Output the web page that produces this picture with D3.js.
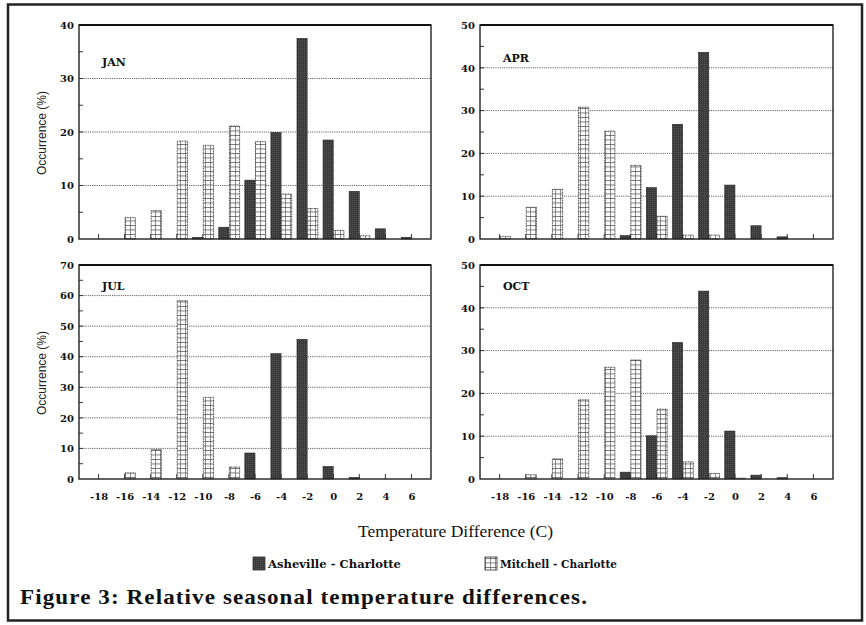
<!DOCTYPE html>
<html><head><meta charset="utf-8">
<script src="https://cdn.jsdelivr.net/npm/d3@7"></script>
<style>body{margin:0;background:#fff}svg{display:block}</style>
</head><body>
<svg id="c" width="866" height="625"></svg>
<script>
const categories = [-18,-16,-14,-12,-10,-8,-6,-4,-2,0,2,4,6];
const months = ["JAN","APR","JUL","OCT"];
const yMax = [40,50,70,50];
const ashevilleJAN = [0,0,0,0,0.3,2.2,11.0,19.9,37.5,18.5,8.9,1.9,0.3];
const mitchellJAN  = [0,4.0,5.3,18.3,17.5,21.1,18.2,8.4,5.7,1.6,0.6,0,0];
const ashevilleAPR = [0,0,0,0,0,0.8,12.0,26.8,43.6,12.6,3.1,0.5,0];
const mitchellAPR  = [0.6,7.4,11.6,30.8,25.2,17.2,5.3,0.9,0.9,0,0,0,0];
const ashevilleJUL = [0,0,0,0,0,0,8.5,41.0,45.7,4.1,0.5,0,0];
const mitchellJUL  = [0,2.0,9.6,58.3,26.7,3.9,0,0,0,0,0,0,0];
const ashevilleOCT = [0,0,0,0,0,1.6,10.1,31.9,43.9,11.2,0.9,0.3,0];
const mitchellOCT  = [0,1.0,4.7,18.5,26.1,27.8,16.3,4.0,1.3,0.2,0,0,0];
const seriesNames = ["Asheville - Charlotte","Mitchell - Charlotte"];
const xTitle = "Temperature Difference (C)";
const yTitle = "Occurrence (%)";
const caption = "Figure 3: Relative seasonal temperature differences.";

const asheville = [ashevilleJAN, ashevilleAPR, ashevilleJUL, ashevilleOCT];
const mitchell = [mitchellJAN, mitchellAPR, mitchellJUL, mitchellOCT];

const svg = d3.select("#c");
const defs = svg.append("defs");
const pat = defs.append("pattern").attr("id","grid").attr("patternUnits","userSpaceOnUse")
  .attr("width",5).attr("height",4.5);
pat.append("rect").attr("width",5).attr("height",4.5).attr("fill","#fafafa");
pat.append("path").attr("d","M0,0H5M0,0V4.5").attr("stroke","#4a4a4a").attr("stroke-width",1.2);
const pat2 = defs.append("pattern").attr("id","dark").attr("patternUnits","userSpaceOnUse")
  .attr("width",2).attr("height",2);
pat2.append("rect").attr("width",2).attr("height",2).attr("fill","#3a3a3a");
pat2.append("rect").attr("width",1).attr("height",1).attr("fill","#555");

// outer frame
svg.append("rect").attr("x",8).attr("y",4.5).attr("width",854).attr("height",616)
  .attr("fill","none").attr("stroke","#222").attr("stroke-width",2.5);

const panels = [
  {x0:79, x1:431, y0:25, y1:239},
  {x0:480, x1:833, y0:25, y1:239},
  {x0:79, x1:431, y0:265, y1:479},
  {x0:480, x1:833, y0:265, y1:479}
];

panels.forEach((p,i)=>{
  const g = svg.append("g");
  const x = d3.scaleLinear().domain([-19.5,7.5]).range([p.x0,p.x1]);
  const y = d3.scaleLinear().domain([0,yMax[i]]).range([p.y1,p.y0]);
  const bw = (x(2)-x(0))*0.39;
  const majors = d3.range(10, yMax[i], 10);
  g.selectAll(".gl").data(majors).enter().append("line")
    .attr("x1",p.x0).attr("x2",p.x1).attr("y1",d=>y(d)).attr("y2",d=>y(d))
    .attr("stroke","#555").attr("stroke-width",0.9).attr("stroke-dasharray","1.2,1");
  const ya = d3.axisLeft(y).tickValues(d3.range(0,yMax[i]+1,10)).tickSize(0).tickPadding(5);
  const yg = g.append("g").attr("transform",`translate(${p.x0},0)`).call(ya);
  yg.select(".domain").remove();
  yg.selectAll("text").attr("font-family","DejaVu Serif").attr("font-weight","bold")
    .attr("font-size",10).attr("fill","#111");
  g.selectAll(".ym").data(d3.range(5,yMax[i],5)).enter().append("line")
    .attr("x1",p.x0).attr("x2",p.x0+4).attr("y1",d=>y(d)).attr("y2",d=>y(d))
    .attr("stroke","#333").attr("stroke-width",1);
  g.selectAll(".xm").data(categories).enter().append("line")
    .attr("x1",d=>x(d)).attr("x2",d=>x(d)).attr("y1",p.y1).attr("y2",p.y1-5)
    .attr("stroke","#333").attr("stroke-width",1);
  g.selectAll(".ba").data(categories.map((c,k)=>({c,v:asheville[i][k]})).filter(d=>d.v>0))
    .enter().append("rect")
    .attr("x",d=>x(d.c)-bw).attr("width",bw)
    .attr("y",d=>y(d.v)).attr("height",d=>p.y1-y(d.v))
    .attr("fill","url(#dark)").attr("stroke","#222").attr("stroke-width",0.6);
  g.selectAll(".bm").data(categories.map((c,k)=>({c,v:mitchell[i][k]})).filter(d=>d.v>0))
    .enter().append("rect")
    .attr("x",d=>x(d.c)+0.5).attr("width",bw)
    .attr("y",d=>y(d.v)).attr("height",d=>p.y1-y(d.v))
    .attr("fill","url(#grid)").attr("stroke","#333").attr("stroke-width",0.9)
    .attr("stroke-dasharray","1,0.6");
  g.append("rect").attr("x",p.x0).attr("y",p.y0).attr("width",p.x1-p.x0).attr("height",p.y1-p.y0)
    .attr("fill","none").attr("stroke","#222").attr("stroke-width",1.4);
  g.append("line").attr("x1",p.x0).attr("x2",p.x1).attr("y1",p.y0).attr("y2",p.y0)
    .attr("stroke","#111").attr("stroke-width",2);
  g.append("text").attr("x",p.x0+23).attr("y", i<2 ? (i===0?66:62) : 290)
    .attr("font-family","DejaVu Serif").attr("font-weight","bold").attr("font-size",11)
    .attr("fill","#111").text(months[i]);
  if (i>=2) {
    const xa = d3.axisBottom(x).tickValues(categories).tickSize(0).tickPadding(14)
      .tickFormat(d=>d<0?"-"+Math.abs(d):String(d));
    const xg = g.append("g").attr("transform",`translate(0,${p.y1})`).call(xa);
    xg.select(".domain").remove();
    xg.selectAll("text").attr("font-family","DejaVu Serif").attr("font-weight","bold")
      .attr("font-size",10).attr("fill","#111");
  }
  if (i===0 || i===2) {
    g.append("text").attr("transform",`translate(46,${(p.y0+p.y1)/2+1}) rotate(-90)`)
      .attr("text-anchor","middle").attr("font-family","Liberation Sans").attr("font-size",12)
      .attr("fill","#222").text(yTitle);
  }
});

svg.append("text").attr("x",358).attr("y",537).attr("textLength",195).attr("lengthAdjust","spacingAndGlyphs")
  .attr("font-family","Liberation Serif").attr("font-size",17).attr("fill","#111").text(xTitle);

const leg = [{x:253, fill:"url(#dark)"},{x:485, fill:"url(#grid)"}];
leg.forEach((l,k)=>{
  svg.append("rect").attr("x",l.x).attr("y",557).attr("width",12).attr("height",13)
    .attr("fill",l.fill).attr("stroke","#333").attr("stroke-width",0.8);
  svg.append("text").attr("x",l.x+15).attr("y",567.5)
    .attr("font-family","DejaVu Serif").attr("font-weight","bold").attr("font-size",10.5).attr("fill","#111")
    .attr("textLength", k===0?133:117).attr("lengthAdjust","spacingAndGlyphs")
    .text(seriesNames[k]);
});

svg.append("text").attr("x",20).attr("y",604).attr("textLength",568).attr("lengthAdjust","spacingAndGlyphs")
  .attr("font-family","Liberation Serif").attr("font-weight","bold").attr("font-size",21)
  .attr("letter-spacing",1).attr("fill","#111").text(caption);
</script>
</body></html>
